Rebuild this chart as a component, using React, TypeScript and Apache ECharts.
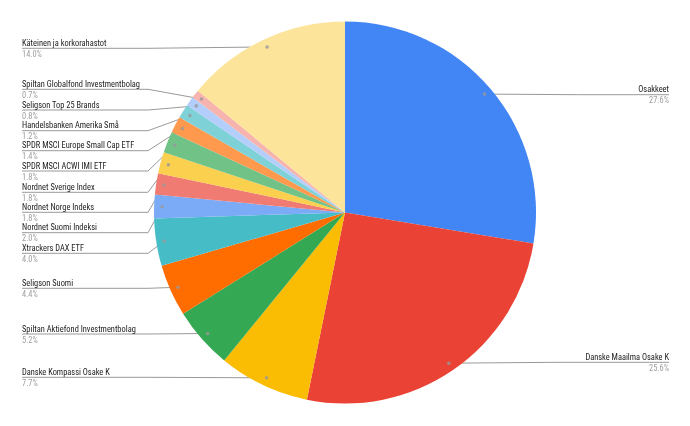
import React, { useEffect, useRef } from 'react';
import * as echarts from 'echarts';

const categories = [
  'Osakkeet',
  'Danske Maailma Osake K',
  'Danske Kompassi Osake K',
  'Spiltan Aktiefond Investmentbolag',
  'Seligson Suomi',
  'Xtrackers DAX ETF',
  'Nordnet Suomi Indeksi',
  'Nordnet Norge Indeks',
  'Nordnet Sverige Index',
  'SPDR MSCI ACWI IMI ETF',
  'SPDR MSCI Europe Small Cap ETF',
  'Handelsbanken Amerika Små',
  'Seligson Top 25 Brands',
  'Spiltan Globalfond Investmentbolag',
  'Käteinen ja korkorahastot',
];

const values = [27.6, 25.6, 7.7, 5.2, 4.4, 4.0, 2.0, 1.8, 1.8, 1.8, 1.4, 1.2, 0.8, 0.7, 14.0];

const colors = [
  '#4285F4', '#EA4335', '#FBBC04', '#34A853', '#FF6D01', '#46BDC6', '#7BAAF7',
  '#F07B72', '#FCD04F', '#71C287', '#FF994D', '#7ED1D7', '#B3CEFB', '#F7B4AE', '#FDE49B',
];

// layout: y of each label's underline
const labelLineY = [94.7, 362.3, 377.3, 334, 288.3, 253.3, 232.7, 212.3, 192.3, 171, 150.7, 130.7, 110, 89.3, 48.3];

const CX = 345;
const CY = 212.5;
const R = 191;
const DOT_R = 0.958;
const LEFT_X = 22;
const RIGHT_X = 669;
const BEND_X = 148;
const FONT = '"Roboto Condensed", "Liberation Sans", Arial, sans-serif';

export default function App() {
  const ref = useRef<HTMLDivElement>(null);
  useEffect(() => {
    const chart = echarts.init(ref.current!, null, { renderer: 'svg' });
    const total = values.reduce((a, b) => a + b, 0);
    const mids: number[] = [];
    let cum = 0;
    values.forEach((v) => {
      mids.push(((cum + v / 2) / total) * 100);
      cum += v;
    });
    const isRight = (i: number) => mids[i] < 50;
    const dotPos = (i: number) => {
      const th = (mids[i] / 100) * Math.PI * 2;
      return [CX + DOT_R * R * Math.sin(th), CY - DOT_R * R * Math.cos(th)];
    };
    const txt = { fontSize: 8.4, lineHeight: 11, fontFamily: FONT };
    chart.setOption({
      animation: false,
      polar: { center: [CX, CY], radius: R },
      angleAxis: { type: 'value', min: 0, max: 100, startAngle: 90, clockwise: true, show: false },
      radiusAxis: { type: 'value', min: 0, max: 1, show: false },
      series: [
        {
          type: 'pie',
          center: [CX, CY],
          radius: R,
          startAngle: 90,
          clockwise: true,
          avoidLabelOverlap: false,
          silent: true,
          itemStyle: { borderWidth: 0 },
          data: categories.map((n, i) => ({ name: n, value: values[i], itemStyle: { color: colors[i] } })),
          label: {
            show: true,
            position: 'outside',
            formatter: (p: any) =>
              isRight(p.dataIndex)
                ? `{nr|${p.name}}\n{pr|${p.value.toFixed(1)}%}`
                : `{n|${p.name}}\n{p|${p.value.toFixed(1)}%}`,
            rich: {
              n: { ...txt, color: '#222222', align: 'left' },
              p: { ...txt, color: '#9e9e9e', align: 'left' },
              nr: { ...txt, color: '#222222', align: 'right' },
              pr: { ...txt, color: '#9e9e9e', align: 'right' },
            },
          },
          labelLine: { show: true, smooth: false, lineStyle: { color: '#999999', width: 1 } },
          labelLayout: (params: any) => {
            const i = params.dataIndex;
            const y = labelLineY[i];
            const d = dotPos(i);
            if (isRight(i)) {
              return {
                x: RIGHT_X,
                y,
                align: 'right',
                verticalAlign: 'middle',
                labelLinePoints: [d, [(d[0] + RIGHT_X) / 2, y], [RIGHT_X, y]],
              };
            }
            const bx = Math.min(BEND_X, d[0]);
            return {
              x: LEFT_X,
              y,
              align: 'left',
              verticalAlign: 'middle',
              labelLinePoints: [d, [bx, y], [LEFT_X, y]],
            };
          },
          z: 2,
        },
        {
          type: 'scatter',
          coordinateSystem: 'polar',
          data: mids.map((m) => [DOT_R, m]),
          symbolSize: 3.5,
          itemStyle: { color: '#999999' },
          silent: true,
          z: 5,
        },
      ],
    });
    return () => chart.dispose();
  }, []);
  return <div ref={ref} style={{ position: 'fixed', left: 0, top: 0, width: 690, height: 426 }} />;
}
